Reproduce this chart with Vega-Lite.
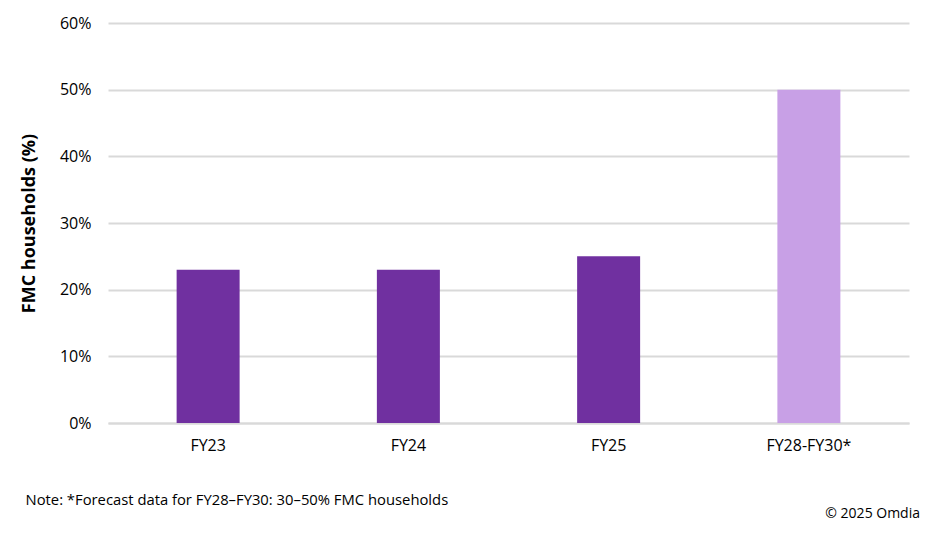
{
  "$schema": "https://vega.github.io/schema/vega-lite/v6.json",
  "width": 801,
  "height": 400,
  "autosize": {"type": "none"},
  "padding": {"left": 108, "top": 23, "right": 23, "bottom": 114},
  "background": "white",
  "data": {"values": [
    {"period": "FY23", "share": 23, "type": "Actual"},
    {"period": "FY24", "share": 23, "type": "Actual"},
    {"period": "FY25", "share": 25, "type": "Actual"},
    {"period": "FY28-FY30*", "share": 50, "type": "Forecast"}
  ]},
  "title": {
    "text": "© 2025 Omdia",
    "orient": "bottom",
    "anchor": "end",
    "frame": "bounds",
    "offset": 0,
    "dx": 11,
    "font": "Open Sans",
    "fontSize": 14,
    "fontWeight": "normal",
    "color": "#000000"
  },
  "mark": {"type": "bar", "size": 63},
  "encoding": {
    "x": {
      "field": "period",
      "type": "nominal",
      "sort": null,
      "scale": {"paddingInner": 0, "paddingOuter": 0},
      "axis": {
        "title": "Note: *Forecast data for FY28–FY30: 30–50% FMC households",
        "titleAnchor": "start",
        "titleAlign": "left",
        "titleX": -83,
        "titleY": 69,
        "titleFont": "Open Sans",
        "titleFontSize": 14.8,
        "titleFontWeight": "normal",
        "titleColor": "#000000",
        "labelAngle": 0,
        "labelFont": "Open Sans",
        "labelFontSize": 16,
        "labelColor": "#000000",
        "labelPadding": 14,
        "ticks": false,
        "domainColor": "#D9D9D9",
        "domainWidth": 2
      }
    },
    "y": {
      "field": "share",
      "type": "quantitative",
      "scale": {"domain": [0, 60]},
      "axis": {
        "title": "FMC households (%)",
        "titleFont": "Open Sans",
        "titleFontSize": 18,
        "titleFontWeight": "bold",
        "titleColor": "#000000",
        "titlePadding": 21,
        "values": [0, 10, 20, 30, 40, 50, 60],
        "labelExpr": "datum.value + '%'",
        "labelFont": "Open Sans",
        "labelFontSize": 16,
        "labelColor": "#000000",
        "labelPadding": 17,
        "ticks": false,
        "domain": false,
        "grid": true,
        "gridColor": "#D9D9D9",
        "gridWidth": 2
      }
    },
    "color": {
      "field": "type",
      "type": "nominal",
      "scale": {"domain": ["Actual", "Forecast"], "range": ["#7030A0", "#C8A0E6"]},
      "legend": null
    }
  },
  "config": {"view": {"stroke": null}}
}
